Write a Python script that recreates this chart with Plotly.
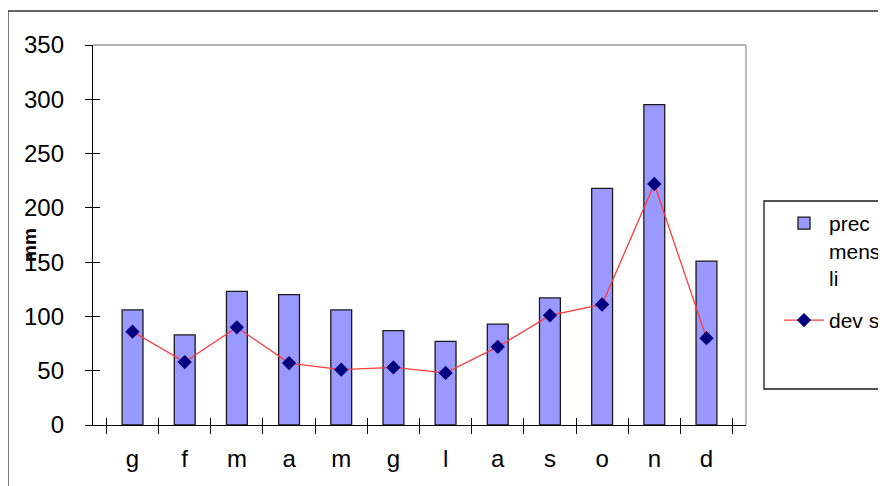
import plotly.graph_objects as go

months = ["g", "f", "m", "a", "m ", "g ", "l", "a ", "s", "o", "n", "d"]
month_labels = ["g", "f", "m", "a", "m", "g", "l", "a", "s", "o", "n", "d"]
prec_mensili = [106, 83, 123, 120, 106, 87, 77, 93, 117, 218, 295, 151]
dev_st = [86, 58, 90, 57, 51, 53, 48, 72, 101, 111, 222, 80]
y_ticks = [0, 50, 100, 150, 200, 250, 300, 350]

FONT = "Liberation Sans, Arial, sans-serif"

# figure size and page offset (body margin)
FW, FH, OFF = 878, 478, 8
# plot area in screen pixels
PX0, PX1, PY0, PY1 = 93, 746, 45, 425
PW, PH = PX1 - PX0, PY1 - PY0


def px(x):
    return (x - PX0) / PW


def py(y):
    return (PY1 - y) / PH


def cx(x):
    return (x - OFF) / FW


def cy(y):
    return 1 - (y - OFF) / FH


fig = go.Figure()
fig.add_trace(go.Bar(
    x=months, y=prec_mensili, name="prec<br>mens<br>li",
    marker=dict(color="#9999FF", line=dict(color="#1a1a1a", width=1.3)),
    width=0.4, legendgroup="a",
))
fig.add_trace(go.Scatter(
    x=months, y=dev_st, name="dev st", mode="lines+markers",
    line=dict(color="#FF3b3b", width=1.3),
    marker=dict(symbol="diamond", size=11, color="#000080"),
    legendgroup="b",
))
# helper trace for the inner halves of the cross ticks
fig.add_trace(go.Scatter(
    x=months, y=dev_st, xaxis="x2", yaxis="y2", mode="markers",
    marker=dict(opacity=0), showlegend=False, hoverinfo="skip",
))

fig.update_layout(
    width=FW, height=FH,
    margin=dict(l=PX0 - OFF, r=FW - (PX1 - OFF), t=PY0 - OFF, b=FH - (PY1 - OFF)),
    paper_bgcolor="white", plot_bgcolor="white",
    font=dict(family=FONT, size=24, color="black"),
    showlegend=True,
    bargap=0.6,
    legend=dict(
        xref="container", yref="container",
        x=cx(779), y=cy(203), xanchor="left", yanchor="top",
        bgcolor="rgba(0,0,0,0)", borderwidth=0,
        font=dict(size=21, family=FONT),
        tracegroupgap=12, itemwidth=40, valign="top",
    ),
    xaxis=dict(
        type="category", categoryarray=months, tickvals=months, ticktext=month_labels,
        showline=True, linecolor="black", linewidth=1.3,
        ticks="outside", ticklen=8, tickcolor="black", tickwidth=1.3,
        tickson="boundaries", showgrid=False, zeroline=False,
        ticklabelstandoff=12,
    ),
    yaxis=dict(
        range=[0, 350], tickvals=y_ticks,
        showline=True, linecolor="black", linewidth=1.3,
        ticks="outside", ticklen=7, tickcolor="black", tickwidth=1.3,
        showgrid=False, zeroline=False, ticklabelstandoff=16,
    ),
    xaxis2=dict(
        type="category", categoryarray=months, overlaying="x", matches="x",
        ticks="inside", ticklen=7, tickcolor="black", tickwidth=1.3,
        tickson="boundaries", showticklabels=False, showgrid=False,
        showline=False, zeroline=False,
    ),
    yaxis2=dict(
        range=[0, 350], tickvals=y_ticks, overlaying="y", matches="y",
        ticks="inside", ticklen=7, tickcolor="black", tickwidth=1.3,
        showticklabels=False, showgrid=False, showline=False, zeroline=False,
    ),
    annotations=[dict(
        text="<b>mm</b>", textangle=-90, xref="paper", yref="paper",
        x=px(29), y=py(245), xanchor="center", yanchor="middle", showarrow=False,
        font=dict(size=19, family=FONT, color="black"),
    )],
    shapes=[
        # plot area border (top and right, gray)
        dict(type="line", xref="paper", yref="paper", x0=0, x1=1, y0=1, y1=1,
             line=dict(color="#9a9a9a", width=1.3)),
        dict(type="line", xref="paper", yref="paper", x0=1, x1=1, y0=0, y1=1,
             line=dict(color="#9a9a9a", width=1.3)),
        # chart outer border
        dict(type="rect", xref="paper", yref="paper",
             x0=px(8), x1=px(900), y0=py(500), y1=py(11),
             line=dict(color="#333333", width=1.3)),
        # legend box
        dict(type="rect", xref="paper", yref="paper",
             x0=px(764), x1=px(900), y0=py(389), y1=py(201),
             line=dict(color="#1a1a1a", width=1.3)),
    ],
)

fig.write_html("out.html")
